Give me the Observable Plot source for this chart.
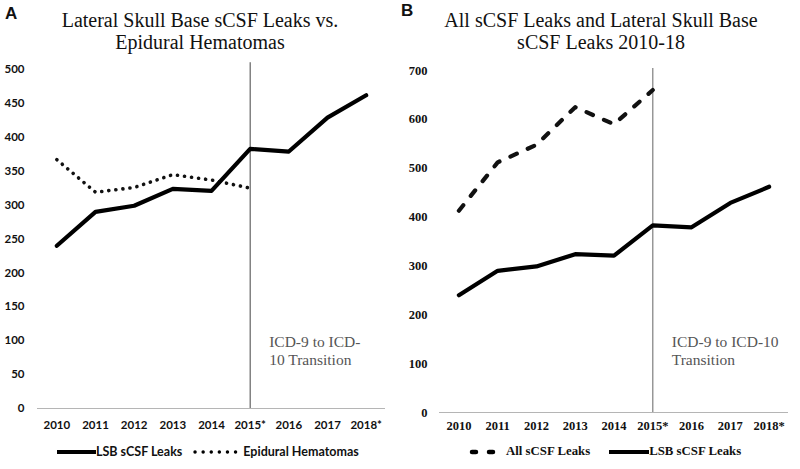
<!DOCTYPE html>
<html>
<head>
<meta charset="utf-8">
<script src="https://cdn.jsdelivr.net/npm/d3@7"></script>
<script src="https://cdn.jsdelivr.net/npm/@observablehq/plot@0.6"></script>
<style>
  html, body { margin: 0; padding: 0; background: #fff; }
  #wrap { position: relative; width: 800px; height: 469px; overflow: hidden; background: #fff; }
  .panel { position: absolute; top: 0; width: 400px; height: 469px; }
  .tag { position: absolute; font-family: "Liberation Sans", Arial, sans-serif; font-weight: bold; font-size: 17px; color: #111; }
  .title { position: absolute; width: 400px; text-align: center; font-family: "Liberation Serif", "Times New Roman", serif; font-size: 20px; line-height: 22px; color: #111; }
  .legend { position: absolute; display: flex; align-items: center; white-space: nowrap; color: #111; }
  .legend svg { display: block; }
</style>
</head>
<body>
<div id="wrap">
  <div class="panel" id="pa" style="left:0"></div>
  <div class="panel" id="pb" style="left:400px"></div>
  <div class="tag" style="left:5px; top:4px;">A</div>
  <div class="tag" style="left:401px; top:1px;">B</div>
  <div class="title" style="left:0; top:9px;">Lateral Skull Base sCSF Leaks vs.<br>Epidural Hematomas</div>
  <div class="title" style="left:401px; top:9px;">All sCSF Leaks and Lateral Skull Base<br>sCSF Leaks 2010-18</div>
  <div class="legend" id="legA" style="left:57px; top:444px; font-family: Lato, 'Open Sans', sans-serif; font-weight:700; font-size:12.5px;"></div>
  <div class="legend" id="legB" style="left:469px; top:444px; font-family: 'Liberation Serif', serif; font-weight:700; font-size:12.8px;"></div>
</div>
<script>
const years = [2010, 2011, 2012, 2013, 2014, 2015, 2016, 2017, 2018];
const yearLabels = ["2010", "2011", "2012", "2013", "2014", "2015*", "2016", "2017", "2018*"];
const lsbLeaks = [240, 290, 299, 324, 321, 383, 379, 429, 462];
const epiduralHematomas = [367, 319, 326, 345, 337, 325];
const allScsfLeaks = [413, 512, 548, 625, 590, 660];
const transitionYear = 2015;
const annotationText = { A: "ICD-9 to ICD-\n10 Transition", B: "ICD-9 to ICD-10\nTransition" };

const lsbData = years.map((y, i) => ({ year: y, value: lsbLeaks[i] }));
const epiData = epiduralHematomas.map((v, i) => ({ year: years[i], value: v }));
const allData = allScsfLeaks.map((v, i) => ({ year: years[i], value: v }));
const fmtYear = d => yearLabels[years.indexOf(d)];

const chartA = Plot.plot({
  width: 400, height: 469,
  marginLeft: 37, marginRight: 15, marginTop: 69, marginBottom: 61,
  x: { domain: [2009.5, 2018.5], axis: null },
  y: { domain: [0, 500], axis: null },
  style: { fontFamily: "Lato, 'Open Sans', sans-serif", fontSize: "11.5px", fontWeight: 700, color: "#111", background: "transparent" },
  marks: [
    Plot.axisY({ ticks: d3.range(0, 501, 50), tickSize: 0, tickPadding: 13, label: null }),
    Plot.axisX({ ticks: years, tickFormat: fmtYear, tickSize: 0, tickPadding: 12, label: null }),
    Plot.ruleY([0], { stroke: "#b5b5b5", strokeWidth: 1.2 }),
    Plot.ruleX([transitionYear], { y1: 0, y2: 510, stroke: "#444", strokeWidth: 1 }),
    Plot.text([{ year: transitionYear, value: 110, t: annotationText.A }], {
      x: "year", y: "value", text: "t", dx: 19, textAnchor: "start", lineAnchor: "top",
      fontFamily: "'Liberation Serif', serif", fontSize: 15.5, fontWeight: 400, lineHeight: 1.17, fill: "#555"
    }),
    Plot.line(epiData, { x: "year", y: "value", stroke: "#111", strokeWidth: 3.6, strokeDasharray: "0.1 7", strokeLinecap: "round" }),
    Plot.line(lsbData, { x: "year", y: "value", stroke: "#000", strokeWidth: 4.2, strokeLinejoin: "round" })
  ]
});
document.getElementById("pa").appendChild(chartA);

const chartB = Plot.plot({
  width: 400, height: 469,
  marginLeft: 39, marginRight: 12, marginTop: 70, marginBottom: 57,
  x: { domain: [2009.5, 2018.5], axis: null },
  y: { domain: [0, 700], axis: null },
  style: { fontFamily: "'Liberation Serif', serif", fontSize: "12.5px", fontWeight: 700, color: "#111", background: "transparent" },
  marks: [
    Plot.axisY({ ticks: d3.range(0, 701, 100), tickSize: 0, tickPadding: 12, label: null }),
    Plot.axisX({ ticks: years, tickFormat: fmtYear, tickSize: 0, tickPadding: 9, label: null }),
    Plot.ruleY([0], { stroke: "#b5b5b5", strokeWidth: 1.2 }),
    Plot.ruleX([transitionYear], { y1: 0, y2: 704, stroke: "#888", strokeWidth: 1.3 }),
    Plot.text([{ year: transitionYear, value: 161, t: annotationText.B }], {
      x: "year", y: "value", text: "t", dx: 19, textAnchor: "start", lineAnchor: "top",
      fontFamily: "'Liberation Serif', serif", fontSize: 15.5, fontWeight: 400, lineHeight: 1.17, fill: "#555"
    }),
    Plot.line(allData, { x: "year", y: "value", stroke: "#111", strokeWidth: 4.2, strokeDasharray: "7 12", strokeLinecap: "round", strokeLinejoin: "round" }),
    Plot.line(lsbData, { x: "year", y: "value", stroke: "#000", strokeWidth: 4.2, strokeLinejoin: "round" })
  ]
});
document.getElementById("pb").appendChild(chartB);

// legends
function swatch(dash, width, sw, cap) {
  const s = d3.create("svg").attr("width", width).attr("height", 12);
  s.append("line").attr("x1", cap === "round" ? 3 : 0).attr("x2", width - (cap === "round" ? 3 : 0)).attr("y1", 6).attr("y2", 6)
    .attr("stroke", "#000").attr("stroke-width", sw)
    .attr("stroke-dasharray", dash).attr("stroke-linecap", cap);
  return s.node();
}
const legA = d3.select("#legA");
legA.append(() => swatch(null, 39, 4, "butt"));
legA.append("span").text("LSB sCSF Leaks").style("margin-right", "10px");
legA.append(() => swatch("0.1 8", 48, 3.4, "round"));
legA.append("span").text("Epidural Hematomas").style("margin-left", "3px");

const legB = d3.select("#legB");
legB.append(() => swatch("4 13", 33, 4.5, "round"));
legB.append("span").text("All sCSF Leaks").style("margin-left", "4px").style("margin-right", "19px");
legB.append(() => swatch(null, 40, 4, "butt"));
legB.append("span").text("LSB sCSF Leaks");
</script>
</body>
</html>
